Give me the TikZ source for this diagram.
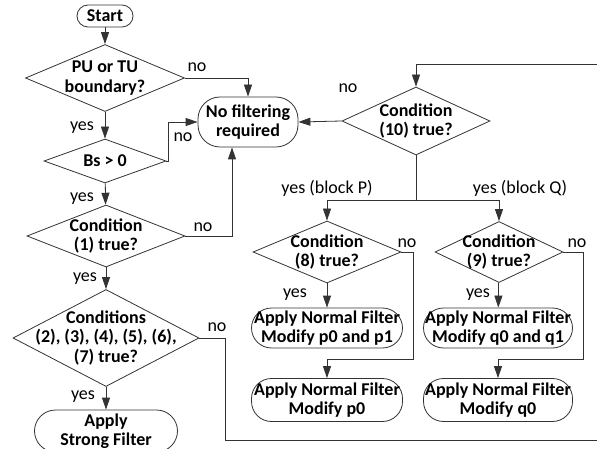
\documentclass[tikz,border=0pt]{standalone}
\usepackage{fontspec}
\setmainfont{Carlito}
\usetikzlibrary{shapes.geometric,arrows.meta}
\newcommand{\fsz}{\fontsize{18}{19.5}\selectfont}
\tikzset{
  box/.style={draw=black!80,line width=0.8pt,rectangle,rounded corners=#1,
    align=center,inner sep=0pt,font=\fsz\bfseries},
  dec/.style={draw=black!80,line width=0.8pt,diamond,inner sep=0pt},
  dtext/.style={font=\fsz\bfseries,align=center},
  lbl/.style={font=\fsz,inner sep=0pt},
  arr/.style={draw=black!80,line width=0.8pt,-{Triangle[length=12pt,width=8pt]}},
  line/.style={draw=black!80,line width=0.8pt}
}
\begin{document}
\begin{tikzpicture}[x=1pt,y=-1pt]
\useasboundingbox (0,0) rectangle (597,449);
%					Left column :
\node[box=11pt,minimum width=56,minimum height=22] (start) at (105,16) {Start};
\node[dec,minimum width=159,minimum height=67,
  label={[dtext]center:PU or TU\\boundary?}] (pu) at (105,78) {};
\node[dec,minimum width=122,minimum height=44,
  label={[dtext]center:Bs > 0}] (bs) at (105,161) {};
\node[dec,minimum width=158,minimum height=62,
  label={[dtext]center:Condition\\(1) true?}] (cond1) at (106,236) {};
\node[dec,minimum width=186,minimum height=97,
  label={[dtext]center:Conditions\\(2), (3), (4), (5), (6),\\(7) true?}] (conds) at (106,338) {};
\node[box=21pt,minimum width=143,minimum height=42] (strong) at (106,431) {Apply\\Strong Filter};
\node[box=22pt,minimum width=100,minimum height=50] (nofilt) at (248,122) {No filtering\\required};
%					Right part :
\node[dec,minimum width=148,minimum height=68,
  label={[dtext]center:Condition\\(10) true?}] (cond10) at (416,121) {};
\node[dec,minimum width=148,minimum height=62,
  label={[dtext]center:Condition\\(8) true?}] (cond8) at (327,252) {};
\node[dec,minimum width=128,minimum height=61,
  label={[dtext]center:Condition\\(9) true?}] (cond9) at (499,252) {};
\node[box=20pt,minimum width=151,minimum height=40] (p01) at (327,328) {Apply Normal Filter\\Modify p0 and p1};
\node[box=20pt,minimum width=151,minimum height=43] (p0) at (327,400) {Apply Normal Filter\\Modify p0};
\node[box=20pt,minimum width=149,minimum height=40] (q01) at (498,328) {Apply Normal Filter\\Modify q0 and q1};
\node[box=20pt,minimum width=149,minimum height=43] (q0) at (498,400) {Apply Normal Filter\\Modify q0};
\coordinate (outtop) at (597,64);
\coordinate (outbot) at (597,440);
\coordinate (split) at (416,200);
%					Connectors :
\draw[arr] (start) -- (pu);
\draw[arr] (pu.east) -| (nofilt.north);
\draw[arr] (pu) -- (bs);
\draw[arr] (bs.east) -- ++(2,0) |- (nofilt.west);
\draw[arr] (bs) -- (cond1);
\draw[arr] (cond1.east) -| ([xshift=-16pt]nofilt.south);
\draw[arr] (cond1) -- (conds);
\draw[line] (conds.east) -- ++(26,0) |- (outbot);
\draw[arr] (conds) -- (strong);
\draw[arr] (outtop) -| (cond10.north);
\draw[arr] (cond10.west) -- (nofilt.east);
\draw[line] (cond10.south) -- (split);
\draw[arr] (split) -| (cond8.north);
\draw[arr] (split) -| (cond9.north);
\draw[arr] (cond8) -- (p01);
\draw[arr] (cond8.east) -- ++(12,0) |- ([yshift=19pt]p0.north) -- (p0.north);
\draw[arr] (cond9) -- (q01);
\draw[arr] (cond9.east) -- ++(20,0) |- ([yshift=19pt]q0.north) -- (q0.north);
%					Labels :
\node[lbl] (lno1) at (197,67) {no};
\node[lbl] (lyes1) at (82,128) {yes};
\node[lbl] (lno2) at (183,137) {no};
\node[lbl] (lyes2) at (82,199) {yes};
\node[lbl] (lno3) at (203,227) {no};
\node[lbl] (lyes3) at (85,279) {yes};
\node[lbl] (lno4) at (217,327) {no};
\node[lbl] (lyes4) at (83,397) {yes};
\node[lbl] (lno5) at (348,88) {no};
\node[lbl] (lyesp) at (327,188) {yes (block P)};
\node[lbl] (lyesq) at (520,188) {yes (block Q)};
\node[lbl] (lno8) at (407,243) {no};
\node[lbl] (lyes8) at (295,295) {yes};
\node[lbl] (lno9) at (577,243) {no};
\node[lbl] (lyes9) at (478,295) {yes};
\end{tikzpicture}
\end{document}
